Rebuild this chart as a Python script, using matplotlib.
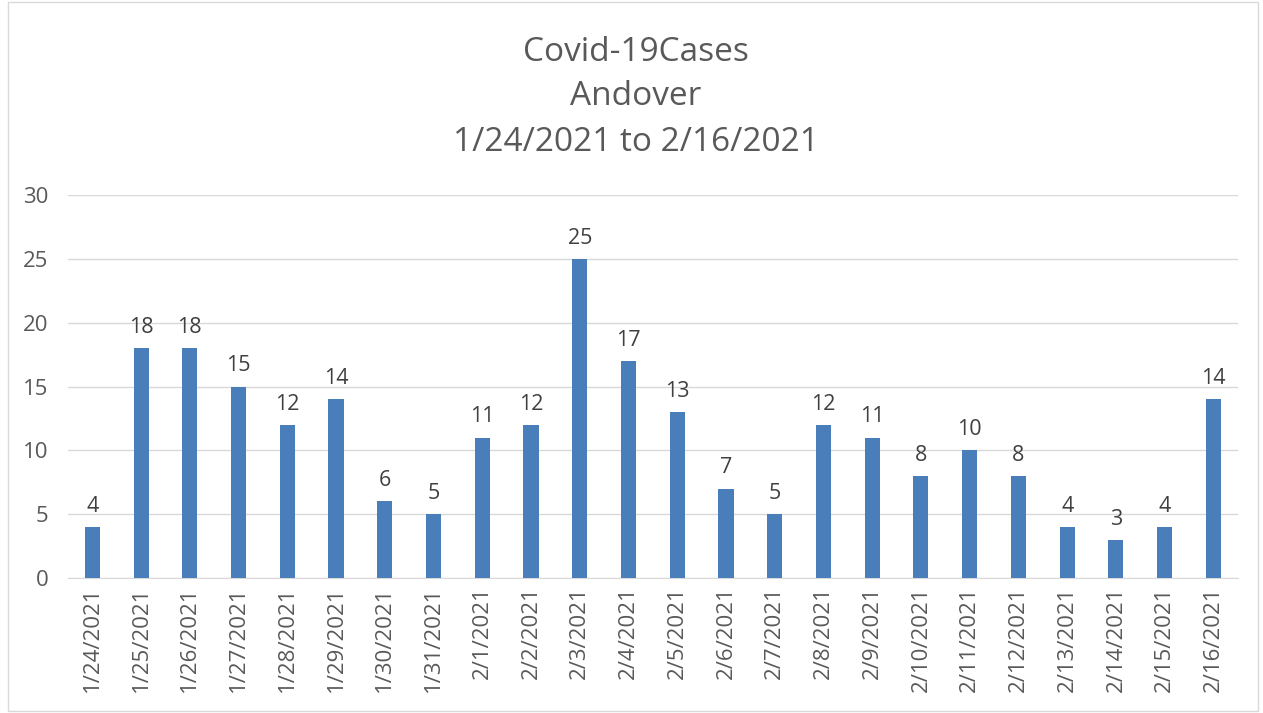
import matplotlib.pyplot as plt

dates = ["1/24/2021", "1/25/2021", "1/26/2021", "1/27/2021", "1/28/2021", "1/29/2021",
         "1/30/2021", "1/31/2021", "2/1/2021", "2/2/2021", "2/3/2021", "2/4/2021",
         "2/5/2021", "2/6/2021", "2/7/2021", "2/8/2021", "2/9/2021", "2/10/2021",
         "2/11/2021", "2/12/2021", "2/13/2021", "2/14/2021", "2/15/2021", "2/16/2021"]
cases = [4, 18, 18, 15, 12, 14, 6, 5, 11, 12, 25, 17, 13, 7, 5, 12, 11, 8, 10, 8, 4, 3, 4, 14]

plt.rcParams['font.family'] = ['Open Sans', 'DejaVu Sans']
text_color = '#595959'

fig = plt.figure(figsize=(12.63, 7.13), dpi=100)
ax = fig.add_axes([0.0538, 0.1893, 0.9262, 0.5372])

x = range(len(dates))
bars = ax.bar(x, cases, width=0.31, color='#4a7ebb', zorder=3)
for xi, v in zip(x, cases):
  ax.text(xi, v + 0.8, str(v), ha='center', va='bottom', fontsize=15.5, color='#404040')

ax.set_xlim(-0.5, len(dates) - 0.5)
ax.set_ylim(0, 30)
ax.set_yticks(range(0, 31, 5))
ax.set_xticks(list(x))
ax.set_xticklabels(dates, rotation=90, fontsize=16, color=text_color)
ax.tick_params(axis='y', labelsize=16, labelcolor=text_color, length=0, pad=14)
ax.tick_params(axis='x', length=0, pad=6)
ax.grid(axis='y', color='#d9d9d9', linewidth=1, zorder=0)
for side in ['top', 'right', 'left']:
  ax.spines[side].set_visible(False)
ax.spines['bottom'].set_color('#d9d9d9')

fig.text(0.5036, 0.927, "Covid-19Cases", ha='center', va='center', fontsize=24, color=text_color)
fig.text(0.5036, 0.864, "Andover", ha='center', va='center', fontsize=24, color=text_color)
fig.text(0.5036, 0.800, "1/24/2021 to 2/16/2021", ha='center', va='center', fontsize=24, color=text_color)

border = plt.Rectangle((0.006, 0.003), 0.99, 0.994, transform=fig.transFigure,
                       fill=False, edgecolor='#d9d9d9', linewidth=1)
fig.patches.append(border)

fig.savefig('out.png', dpi=100)
